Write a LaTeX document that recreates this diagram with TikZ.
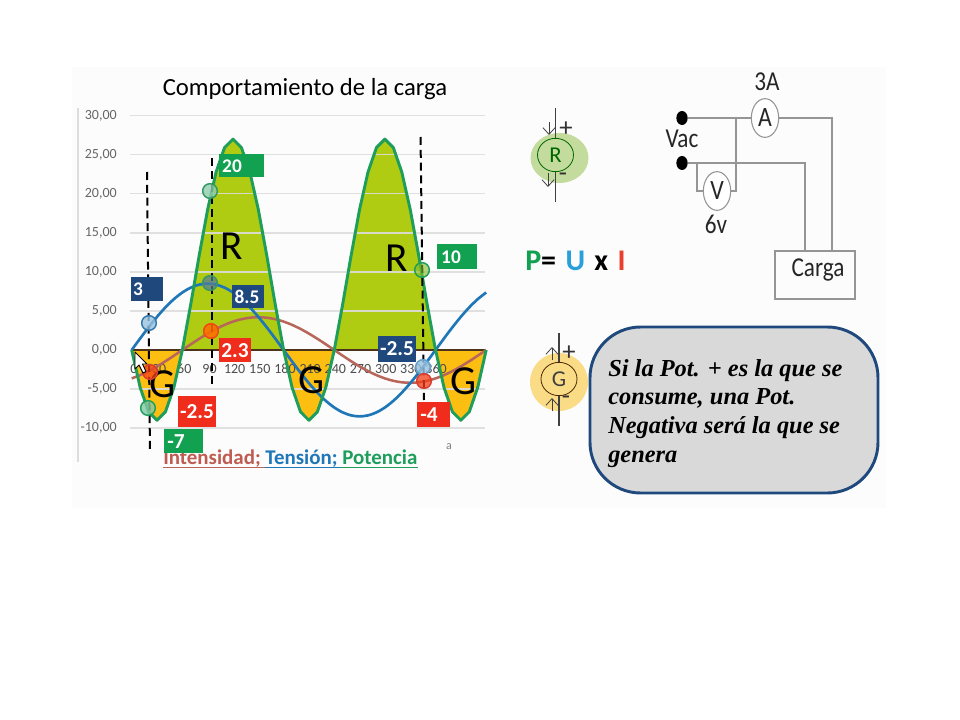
\documentclass[tikz,border=0pt]{standalone}
\usepackage{fontspec}
\setmainfont{Carlito}
\newfontfamily\serifb{Liberation Serif}
\usetikzlibrary{shapes.geometric,arrows.meta}
\definecolor{panelc}{HTML}{FCFCFC}
\definecolor{gridc}{HTML}{DDDDDD}
\definecolor{tickc}{HTML}{666666}
\definecolor{potc}{HTML}{1E9E5A}
\definecolor{tenc}{HTML}{1F77B8}
\definecolor{intc}{HTML}{B8665A}
\definecolor{posfill}{HTML}{AFCB12}
\definecolor{negfill}{HTML}{FDBE12}
\definecolor{navyb}{HTML}{1F497D}
\definecolor{redb}{HTML}{F02C1C}
\definecolor{greenb}{HTML}{12A150}
\definecolor{wirec}{HTML}{959595}
\definecolor{halor}{HTML}{C3DB9C}
\definecolor{haloy}{HTML}{FBDC86}
\tikzset{
  tick/.style={font=\fontsize{10.5}{12}\selectfont,text=tickc,inner sep=0pt},
  lab/.style={font=\bfseries\fontsize{14.5}{16}\selectfont,text=white,inner sep=0pt,anchor=center},
  bignum/.style={font=\bfseries\fontsize{16}{18}\selectfont,text=white,inner sep=0pt,anchor=center},
  biglet/.style={font=\fontsize{31}{34}\selectfont,text=black,inner sep=0pt},
  dashl/.style={dash pattern=on 6pt off 3.6pt,line width=1.5pt,black},
  mark1/.style={circle,minimum size=11pt,inner sep=0pt,line width=1.1pt},
  wire/.style={draw=wirec,line width=0.8pt},
  meter/.style={ellipse,draw=wirec,fill=white,line width=0.8pt,minimum width=20.5pt,minimum height=29pt,inner sep=0pt,font=\fontsize{21}{22}\selectfont,text=black!85},
  circ/.style={font=\fontsize{20.5}{22}\selectfont,text=black!85,inner sep=0pt},
  symb/.style={ellipse,line width=0.6pt,minimum width=27pt,minimum height=25pt,inner sep=0pt,font=\fontsize{17}{18}\selectfont},
  symline/.style={black!75,line width=0.8pt},
  symarrow/.style={black!75,line width=0.6pt,-{Straight Barb[length=5pt,width=9pt]}},
  pm/.style={inner sep=0pt,font=\fontsize{20}{20}\selectfont,text=black!80},
}
\newcommand{\nar}[1]{\scalebox{.85}[1]{#1}}
\begin{document}
\begin{tikzpicture}[x=0.75pt,y=-0.75pt]
\useasboundingbox (0,0) rectangle (960,720);
\fill[white] (0,0) rectangle (960,720);
\fill[panelc] (72,67) rectangle (886,508);
% filled lobes
\def\X{131.7+0.844*\x}
\def\Y{350-7.81*(9-18*cos(2*\x-60))}
\fill[posfill] plot[domain=60:180,samples=13] ({\X},{\Y}) -- cycle;
\fill[posfill] plot[domain=240:360,samples=13] ({\X},{\Y}) -- cycle;
\fill[negfill] plot[domain=0:60,samples=7] ({\X},{\Y}) -- cycle;
\fill[negfill] plot[domain=180:240,samples=7] ({\X},{\Y}) -- cycle;
\fill[negfill] plot[domain=360:420,samples=7] ({\X},{\Y}) -- cycle;
% grid
\draw[gridc,line width=1pt] (78,108) -- (78,462);
\foreach \v/\t in {30/{30,00},25/{25,00},20/{20,00},15/{15,00},10/{10,00},5/{5,00},0/{0,00},-5/{-5,00},-10/{-10,00}}{
  \draw[gridc,line width=1pt,opacity=.9] (130,{350-7.81*\v}) -- (485,{350-7.81*\v});
  \node[tick,anchor=east] (y\v) at (117,{350-7.81*\v}) {\t};
}
\draw[black!60!brown,line width=1.3pt] (132,350) -- (485,350);
\foreach \d in {0,30,60,90,120,150,180,210,240,270,300,330,360}{
  \node[tick,text=black!70] (xl\d) at ({134+0.839*\d},369) {\d};
}
% curves
\draw[intc,line width=1.9pt] plot[smooth,domain=0:420,samples=43] ({\X},{350-7.81*4.2*sin(\x-60)});
\draw[tenc,line width=2pt] plot[smooth,domain=0:420,samples=43] ({\X},{350-7.81*8.5*sin(\x)});
\draw[potc,line width=2.2pt,line join=round] plot[domain=0:420,samples=43] ({\X},{\Y});
% big letters
\node[biglet] (g1) at (163,384) {G};
\node[biglet] (r1) at (232,246) {R};
\node[biglet] (g2) at (312,380) {G};
\node[biglet] (r2) at (397,258) {R};
\node[biglet] (g3) at (464,381) {G};
% legend
\node[inner sep=0pt,anchor=base west,font=\bfseries\fontsize{15.7}{18}\selectfont] (legend) at (163,464) {\textcolor{intc!90!red}{Intensidad;} \textcolor{tenc}{Tensión;} \textcolor{potc}{Potencia}};
\draw[intc,line width=1pt] (163,467.5) -- (265,467.5);
\draw[tenc,line width=1pt] (265,467.5) -- (340,467.5);
\draw[potc,line width=1pt] (340,467.5) -- (418,467.5);
\node[tick,text=black!50,font=\fontsize{9}{10}\selectfont] (aa) at (449,447) {a};
% dashed lines
\coordinate (d1a) at (147,172); \coordinate (d1b) at (150,453);
\coordinate (d2a) at (212,158); \coordinate (d2b) at (212,388);
\coordinate (d3a) at (420.5,137); \coordinate (d3b) at (424,400);
\draw[dashl] (d1a) -- (d1b);
\draw[dashl] (d2a) -- (d2b);
\draw[dashl] (d3a) -- (d3b);
% markers
\node[mark1,draw=tenc!80!gray,fill=tenc!45!white,fill opacity=.8] (mb1) at (149,323) {};
\node[mark1,draw=redb!80!gray,fill=redb!75!orange,fill opacity=.75] (mr1) at (150,372) {};
\node[mark1,draw=potc,fill=potc!55!white,fill opacity=.8] (mg1) at (148,408) {};
\node[mark1,draw=potc!80!gray,fill=potc!50!white,fill opacity=.8] (mg2) at (210,191) {};
\node[mark1,draw=potc!70!gray,fill=tenc!45!gray,fill opacity=.7] (mb2) at (210,283) {};
\node[mark1,draw=redb!70!orange,fill=orange!85!red,fill opacity=.85] (mr2) at (211,331) {};
\node[mark1,draw=potc,fill=posfill!70!potc,fill opacity=.6] (mg3) at (422,270) {};
\node[mark1,draw=tenc!70!white,fill=tenc!45!white,fill opacity=.8] (mb3) at (423,367) {};
\node[mark1,draw=redb!80!gray,fill=redb!80!orange,fill opacity=.75] (mr3) at (424,381) {};
% value boxes
\fill[greenb] (219,154) rectangle (264,177);
\node[lab] (v20) at (232,166) {20};
\fill[navyb] (131,277) rectangle (163,301);
\node[lab] (v3) at (138,289) {3};
\fill[navyb] (232,285) rectangle (264,308);
\node[lab] (v85) at (247,297) {8.5};
\fill[redb] (219,338) rectangle (251,362);
\node[bignum] (v23) at (235,351) {2.3};
\fill[redb] (178,396) rectangle (216,427);
\node[bignum] (vm25r) at (197,412) {-2.5};
\fill[greenb] (164,429) rectangle (203,453);
\node[bignum] (vm7) at (176,442) {-7};
\fill[greenb] (437,244) rectangle (477,269);
\node[lab] (v10) at (451,257) {10};
\fill[navyb] (378,336) rectangle (416,362);
\node[bignum] (vm25n) at (397,349) {-2.5};
\fill[redb] (417,402) rectangle (450,427);
\node[bignum] (vm4) at (429,415) {-4};
% cursor
\draw[black,fill=white,line width=.7pt,line join=round] (135,352) -- (135,369) -- (139,365) -- (143,373) -- (146,371.5) -- (142.5,364) -- (147,364) -- cycle;
% title
\node[inner sep=0pt,font=\fontsize{18.5}{20}\selectfont,text=black] (title) at (305,89) {Comportamiento de la carga};
% R symbol
\node[ellipse,fill=halor,minimum width=43.5pt,minimum height=37.5pt,inner sep=0pt] (halo1) at (559.5,158) {};
\node[symb,draw=black!60!green,text=black!60!green] (symr) at (555.5,155) {R};
\coordinate (rt) at (555.5,108); \coordinate (rb) at (555.5,202);
\draw[symline] (rt) -- (symr.north);
\draw[symline] (symr.south) -- (rb);
\coordinate (ra1) at (549,122); \coordinate (ra2) at (549,135);
\coordinate (ra3) at (548,173); \coordinate (ra4) at (548,187);
\draw[symarrow] (ra1) -- (ra2);
\draw[symarrow] (ra3) -- (ra4);
\node[pm] (rp) at (566,129) {+};
\node[pm] (rm) at (563,177) {-};
% formula
\node[inner sep=0pt,anchor=base west,font=\bfseries\fontsize{22.5}{24}\selectfont] (formula) at (525,271) {\textcolor{greenb}{P}=\hspace{7pt}\textcolor[HTML]{29A0DA}{U}\hspace{7pt}x\hspace{7pt}\textcolor[HTML]{E8402E}{I}};
% G symbol
\node[circle,fill=haloy,minimum size=43.5pt,inner sep=0pt] (halo2) at (559,382) {};
\node[symb,draw=black!70!orange,text=black!75] (symg) at (559,379) {G};
\coordinate (gt) at (559,333); \coordinate (gb) at (559,426);
\draw[symline] (gt) -- (symg.north);
\draw[symline] (symg.south) -- (gb);
\coordinate (ga1) at (552,360); \coordinate (ga2) at (552,347);
\coordinate (ga3) at (552,411); \coordinate (ga4) at (552,398);
\draw[symarrow] (ga1) -- (ga2);
\draw[symarrow] (ga3) -- (ga4);
\node[pm] (gp) at (569,353) {+};
\node[pm] (gm) at (566,400) {-};
% circuit
\node[ellipse,fill=black,minimum width=8.5pt,minimum height=10.5pt,inner sep=0pt] (dota) at (682,118) {};
\node[ellipse,fill=black,minimum width=8.5pt,minimum height=10.5pt,inner sep=0pt] (dotb) at (682,163) {};
\node[meter] (amm) at (765,118) {\nar{A}};
\node[meter] (vol) at (717,191) {\nar{V}};
\node[wire,draw,minimum width=60pt,minimum height=36pt,inner sep=0pt] (carga) at (815,275) {};
\node[circ] (cargat) at (818,270) {\nar{Carga}};
\coordinate (j1) at (736,118);
\coordinate (j2) at (736,191);
\coordinate (j3) at (697,163);
\coordinate (j4) at (697,191);
\coordinate (c1) at (805,163);
\coordinate (c2) at (805,251);
\coordinate (c3) at (832,118);
\coordinate (c4) at (832,251);
\draw[wire] (dota) -- (amm.west);
\draw[wire] (j1) -- (j2) -- (vol.east);
\draw[wire] (amm.east) -- (c3) -- (c4);
\draw[wire] (dotb) -- (c1) -- (c2);
\draw[wire] (j3) -- (j4) -- (vol.west);
\node[circ] (t3a) at (767,82) {\nar{3A}};
\node[circ] (tvac) at (682,139) {\nar{Vac}};
\node[circ] (t6v) at (716,224) {\nar{6v}};
% callout
\node[draw=navyb,fill=black!15,line width=2.2pt,rounded corners=38pt,minimum width=216pt,minimum height=124.5pt,inner sep=0pt] (call) at (734,410) {};
\begin{scope}[every node/.style={inner sep=0pt,anchor=base west,font=\serifb\bfseries\itshape\fontsize{18.3}{20}\selectfont}]
\node (l1) at (608,376) {Si la Pot. + es la que se};
\node (l2) at (608,404) {consume, una Pot.};
\node (l3) at (608,433) {Negativa será la que se};
\node (l4) at (608,462) {genera};
\end{scope}
\end{tikzpicture}
\end{document}
